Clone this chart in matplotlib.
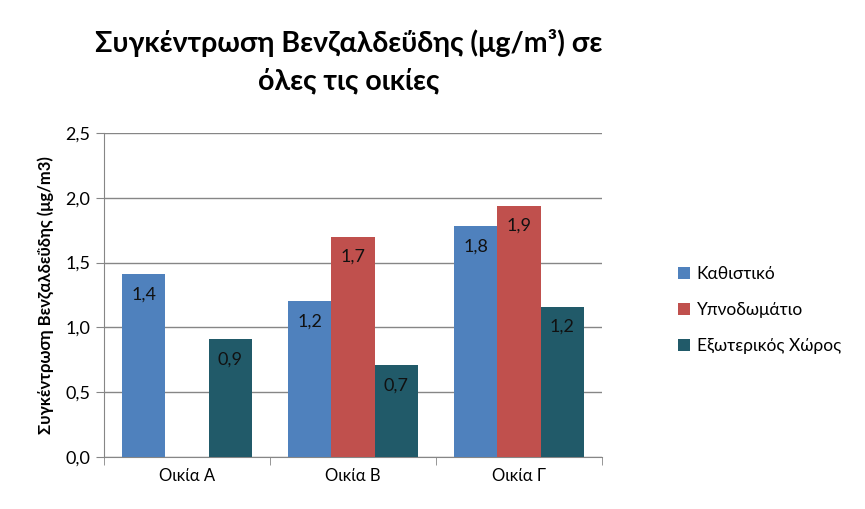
import numpy as np
import matplotlib
matplotlib.use("Agg")
import matplotlib.pyplot as plt
from matplotlib.ticker import FuncFormatter, FixedLocator

plt.rcParams['font.family'] = ['Lato', 'DejaVu Sans']

houses = ['Οικία Α', 'Οικία Β', 'Οικία Γ']
series_names = ['Καθιστικό', 'Υπνοδωμάτιο', 'Εξωτερικός Χώρος']
living = [1.41, 1.20, 1.78]
bedroom = [None, 1.70, 1.94]
outdoor = [0.91, 0.71, 1.16]
colors = ['#4F81BD', '#C0504D', '#215A69']

fig = plt.figure(figsize=(8.65, 5.09), dpi=100)
ax = fig.add_axes([104/865, 1 - 457/509, 498/865, 324/509])

x = np.arange(len(houses))
w = 0.26
for k, (vals, name, c) in enumerate(zip([living, bedroom, outdoor], series_names, colors)):
    xs = [x[i] + (k - 1) * w for i in range(len(vals)) if vals[i] is not None]
    hs = [v for v in vals if v is not None]
    bars = ax.bar(xs, hs, width=w, color=c, label=name, zorder=3)
    for b, v in zip(bars, hs):
        ax.text(b.get_x() + b.get_width() / 2, v - 0.095, f'{v:.1f}'.replace('.', ','),
                ha='center', va='top', fontsize=13, color='#111111', zorder=4)

ax.set_xlim(-0.5, 2.5)
ax.set_ylim(0, 2.5)
ax.set_yticks(np.arange(0, 2.51, 0.5))
ax.yaxis.set_major_formatter(FuncFormatter(lambda v, p: f'{v:.1f}'.replace('.', ',')))
ax.grid(axis='y', color='#868686', linewidth=1, zorder=0)
ax.set_xticks(x)
ax.set_xticklabels(houses, fontsize=12)
ax.tick_params(axis='x', length=0, pad=8)
ax.xaxis.set_minor_locator(FixedLocator([-0.5, 0.5, 1.5, 2.5]))
ax.tick_params(axis='x', which='minor', length=6, color='#868686')
ax.tick_params(axis='y', labelsize=13, length=6, color='#868686', pad=4)
for s in ['top', 'right']:
    ax.spines[s].set_visible(False)
for s in ['left', 'bottom']:
    ax.spines[s].set_color('#868686')

ax.set_ylabel('Συγκέντρωση Βενζαλδεΰδης (μg/m3)', fontsize=12, fontweight='bold', labelpad=8)

fig.text(0.403, 0.878, 'Συγκέντρωση Βενζαλδεΰδης (μg/m³) σε\nόλες τις οικίες',
         ha='center', va='center', fontsize=20.5, fontweight='bold', linespacing=1.5)

fig.legend(loc='center left', bbox_to_anchor=(662/865, 1 - 310/509), frameon=False,
           fontsize=12.5, handlelength=0.7, handleheight=0.7, handletextpad=0.4,
           labelspacing=1.15)

fig.savefig('out.png', dpi=100)
